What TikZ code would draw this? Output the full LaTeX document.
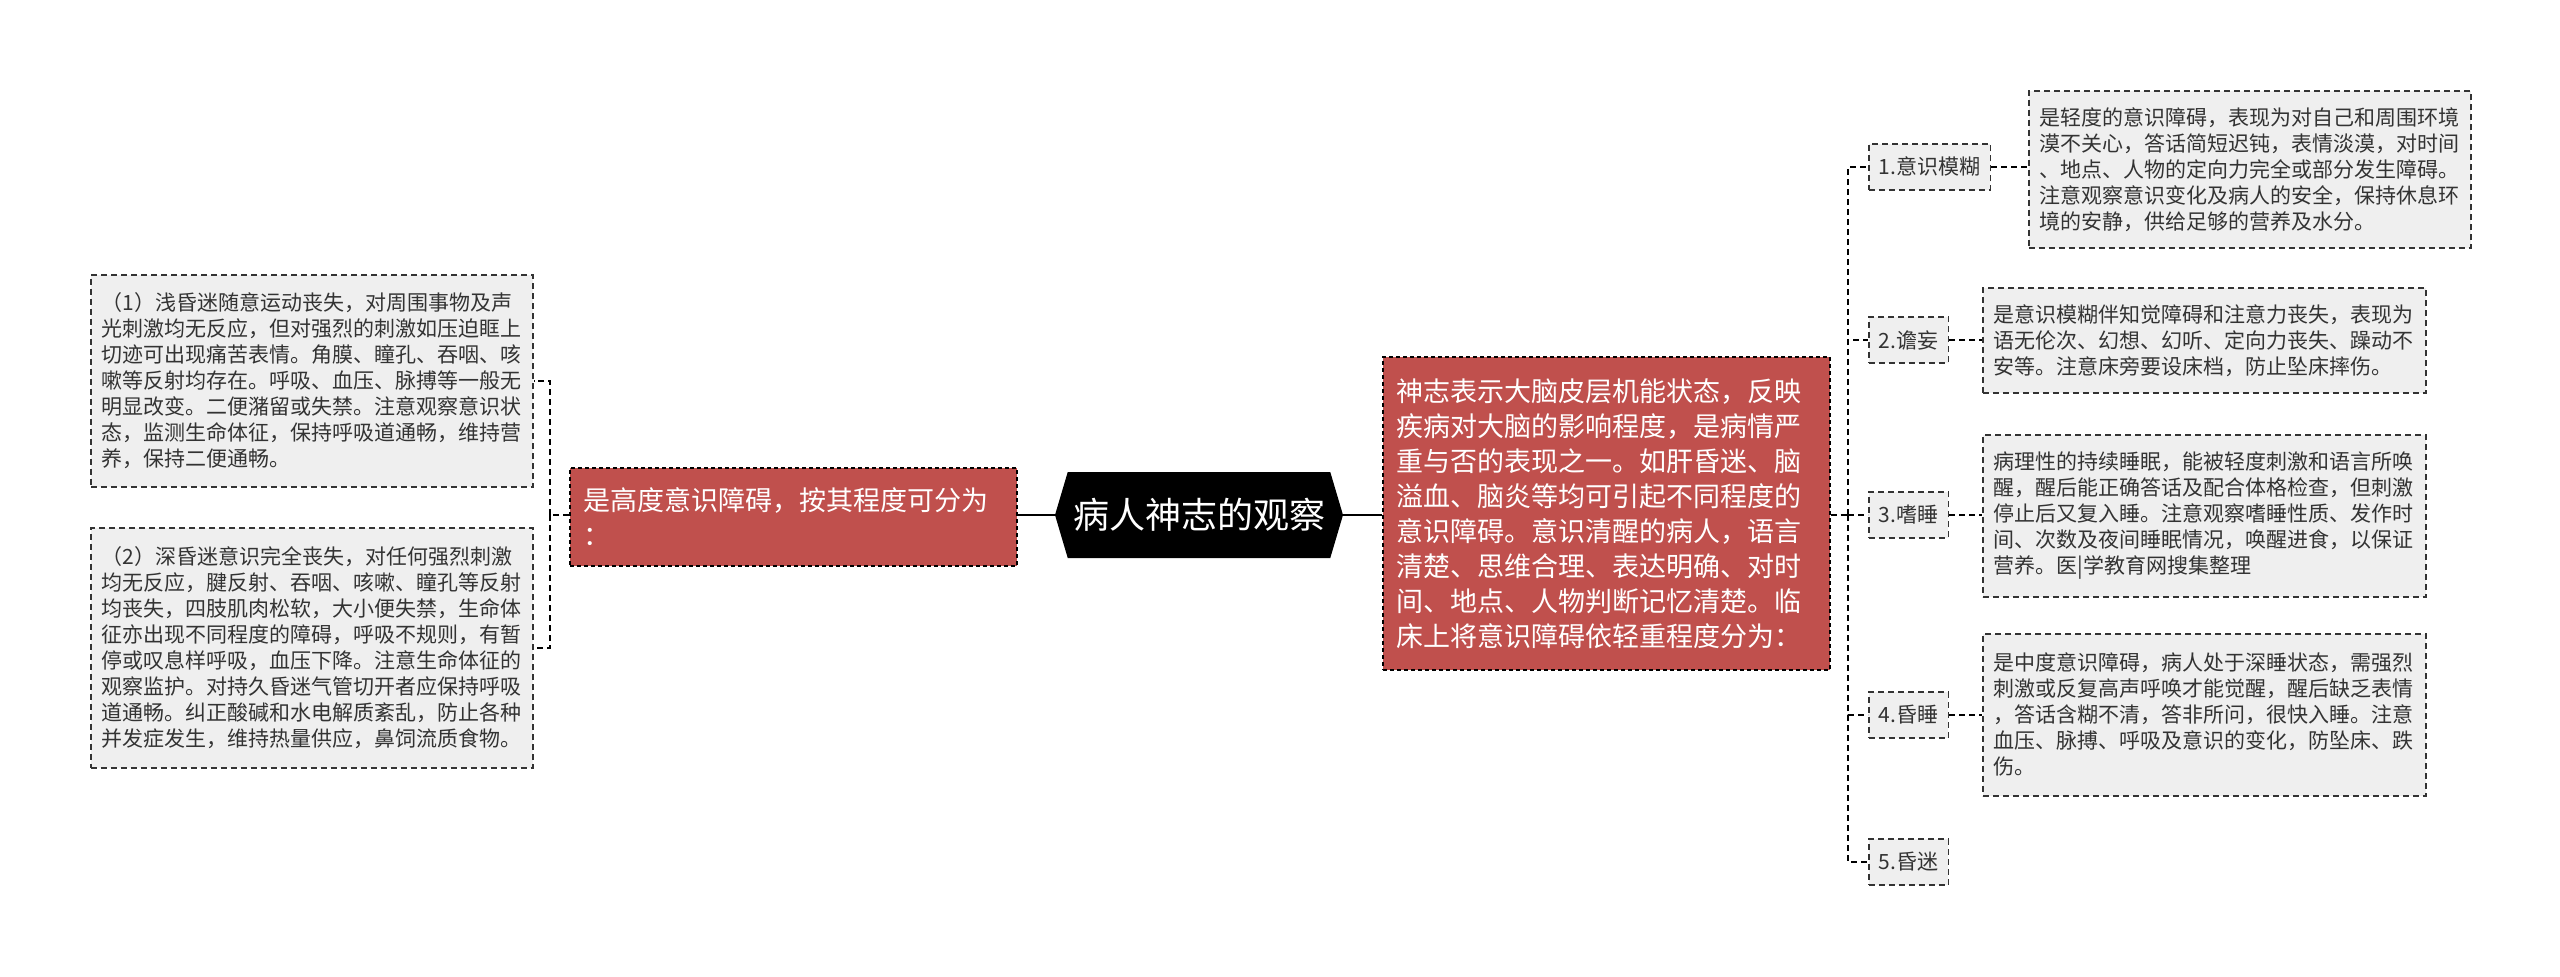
\documentclass[tikz,border=0pt]{standalone}
\usepackage{fontspec}
\setmainfont{Noto Sans CJK SC}
\usetikzlibrary{shapes.symbols}
\definecolor{boxgray}{HTML}{EFEFEF}
\definecolor{txtgray}{HTML}{333333}
\definecolor{boxred}{HTML}{C0504D}
\tikzset{
  graybox/.style={draw=txtgray, fill=boxgray, line width=1.6pt, dash pattern=on 6pt off 4pt,
    text=txtgray, align=left, anchor=north west, inner ysep=0pt,
    font=\fontsize{21}{26}\selectfont},
  redbox/.style={draw=black, fill=boxred, line width=1.6pt, dash pattern=on 4pt off 3pt,
    text=white, align=left, anchor=north west, inner ysep=0pt},
  itembox/.style={draw=txtgray, fill=boxgray, line width=1.6pt, dash pattern=on 6pt off 4pt,
    text=txtgray, anchor=west, minimum height=46pt, inner xsep=10pt,
    font=\fontsize{21}{26}\selectfont},
  hexnode/.style={shape=signal, signal to=east and west, signal pointer angle=147,
    fill=black, text=white, minimum width=288pt, minimum height=86pt, inner sep=0pt,
    font=\fontsize{36}{40}\selectfont},
  conn/.style={draw=black, line width=1.6pt, dash pattern=on 6pt off 4pt},
  solidconn/.style={draw=black, line width=2.5pt}
}
\begin{document}
\begin{tikzpicture}[x=1pt,y=-1pt]
\useasboundingbox (0,0) rectangle (2560,977);
% center
\node[hexnode] (c) at (1199,515) {病人神志的观察};
% left red
\node[redbox, text width=419pt, inner xsep=14pt, minimum height=98pt,
  font=\fontsize{27}{35}\selectfont] (lr) at (569,467)
  {是高度意识障碍，按其程度可分为\\：};
% right red
\node[redbox, text width=419pt, inner xsep=14pt, minimum height=313pt,
  font=\fontsize{27}{35}\selectfont] (rr) at (1382,356)
  {神志表示大脑皮层机能状态，反映\\疾病对大脑的影响程度，是病情严\\重与否的表现之一。如肝昏迷、脑\\溢血、脑炎等均可引起不同程度的\\意识障碍。意识清醒的病人，语言\\清楚、思维合理、表达明确、对时\\间、地点、人物判断记忆清楚。临\\床上将意识障碍依轻重程度分为：};
% left boxes
\node[graybox, text width=420pt, inner xsep=11pt, minimum height=212pt] (b1) at (90,274)
  {（1）浅昏迷随意运动丧失，对周围事物及声\\光刺激均无反应，但对强烈的刺激如压迫眶上\\切迹可出现痛苦表情。角膜、瞳孔、吞咽、咳\\嗽等反射均存在。呼吸、血压、脉搏等一般无\\明显改变。二便潴留或失禁。注意观察意识状\\态，监测生命体征，保持呼吸道通畅，维持营\\养，保持二便通畅。};
\node[graybox, text width=420pt, inner xsep=11pt, minimum height=240pt] (b2) at (90,527)
  {（2）深昏迷意识完全丧失，对任何强烈刺激\\均无反应，腱反射、吞咽、咳嗽、瞳孔等反射\\均丧失，四肢肌肉松软，大小便失禁，生命体\\征亦出现不同程度的障碍，呼吸不规则，有暂\\停或叹息样呼吸，血压下降。注意生命体征的\\观察监护。对持久昏迷气管切开者应保持呼吸\\道通畅。纠正酸碱和水电解质紊乱，防止各种\\并发症发生，维持热量供应，鼻饲流质食物。};
% right items
\node[itembox] (i1) at (1868,167) {1.意识模糊};
\node[itembox] (i2) at (1868,340) {2.谵妄};
\node[itembox] (i3) at (1868,515) {3.嗜睡};
\node[itembox] (i4) at (1868,715) {4.昏睡};
\node[itembox] (i5) at (1868,862) {5.昏迷};
% details
\node[graybox, text width=420pt, inner xsep=11pt, minimum height=157pt] (d1) at (2028,90)
  {是轻度的意识障碍，表现为对自己和周围环境\\漠不关心，答话简短迟钝，表情淡漠，对时间\\、地点、人物的定向力完全或部分发生障碍。\\注意观察意识变化及病人的安全，保持休息环\\境的安静，供给足够的营养及水分。};
\node[graybox, text width=421pt, inner xsep=11pt, minimum height=105pt] (d2) at (1982,287)
  {是意识模糊伴知觉障碍和注意力丧失，表现为\\语无伦次、幻想、幻听、定向力丧失、躁动不\\安等。注意床旁要设床档，防止坠床摔伤。};
\node[graybox, text width=421pt, inner xsep=11pt, minimum height=162pt] (d3) at (1982,434)
  {病理性的持续睡眠，能被轻度刺激和语言所唤\\醒，醒后能正确答话及配合体格检查，但刺激\\停止后又复入睡。注意观察嗜睡性质、发作时\\间、次数及夜间睡眠情况，唤醒进食，以保证\\营养。医|学教育网搜集整理};
\node[graybox, text width=421pt, inner xsep=11pt, minimum height=162pt] (d4) at (1982,633)
  {是中度意识障碍，病人处于深睡状态，需强烈\\刺激或反复高声呼唤才能觉醒，醒后缺乏表情\\，答话含糊不清，答非所问，很快入睡。注意\\血压、脉搏、呼吸及意识的变化，防坠床、跌\\伤。};
% connectors
\draw[solidconn] (c.west) -- (lr.east |- c.west);
\draw[solidconn] (c.east) -- (rr.west |- c.east);
\coordinate (lj) at (550,515);
\coordinate (rj) at (1848,515);
\draw[conn] (lr.west |- lj) -- (lj);
\draw[conn] (lj) |- (b1.east);
\draw[conn] (lj) |- (b2.east);
\draw[conn] (rr.east |- rj) -- (rj);
\draw[conn] (rj) |- (i1.west);
\draw[conn] (rj) |- (i2.west);
\draw[conn] (rj) -- (i3.west);
\draw[conn] (rj) |- (i4.west);
\draw[conn] (rj) |- (i5.west);
\draw[conn] (i1.east) -- (d1.west |- i1.east);
\draw[conn] (i2.east) -- (d2.west |- i2.east);
\draw[conn] (i3.east) -- (d3.west |- i3.east);
\draw[conn] (i4.east) -- (d4.west |- i4.east);
\end{tikzpicture}
\end{document}
